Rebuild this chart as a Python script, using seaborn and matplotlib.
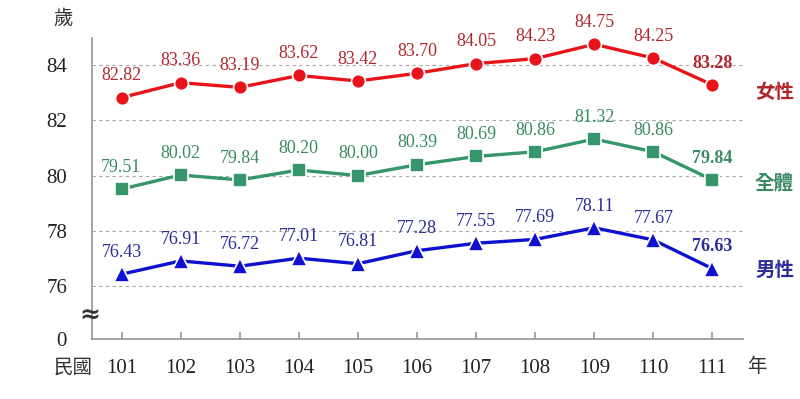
import matplotlib
matplotlib.use("Agg")
import matplotlib.pyplot as plt
import seaborn as sns
import pandas as pd

years = [101, 102, 103, 104, 105, 106, 107, 108, 109, 110, 111]
female = [82.82, 83.36, 83.19, 83.62, 83.42, 83.70, 84.05, 84.23, 84.75, 84.25, 83.28]
total = [79.51, 80.02, 79.84, 80.20, 80.00, 80.39, 80.69, 80.86, 81.32, 80.86, 79.84]
male = [76.43, 76.91, 76.72, 77.01, 76.81, 77.28, 77.55, 77.69, 78.11, 77.67, 76.63]
y_ticks = [76, 78, 80, 82, 84]
series_names = ["女性", "全體", "男性"]

sns.set_theme(style="white")
plt.rcParams['font.family'] = ['Liberation Serif', 'Noto Sans CJK TC', 'DejaVu Sans']

df = pd.DataFrame({"年": years * 3,
                   "歲": female + total + male,
                   "組": [series_names[0]] * 11 + [series_names[1]] * 11 + [series_names[2]] * 11})

# 線色, 標籤色, 標記, 名稱的垂直偏移
styles = {
    "女性": ("#E8141C", "#B3262C", "o", -0.29),
    "全體": ("#36956A", "#3A8A64", "s", -0.13),
    "男性": ("#1010D0", "#2B2B9A", "^", -0.07),
}

fig = plt.figure(figsize=(8, 3.99), dpi=100)
ax = fig.add_axes([0.115, 0.150, 0.814, 0.755])

for name in series_names:
    line_c, text_c, mk, dy = styles[name]
    sub = df[df["組"] == name]
    sns.lineplot(data=sub, x="年", y="歲", ax=ax, color=line_c, linewidth=2.4,
                 marker=mk, markersize=10 if mk != "^" else 11,
                 markeredgecolor="white", markeredgewidth=1.2, legend=False, zorder=3)
    vals = sub["歲"].tolist()
    for i, (x, y) in enumerate(zip(sub["年"], vals)):
        last = i == len(vals) - 1
        ax.text(x, y + 0.48, f"{y:.2f}", ha="center", va="bottom", fontsize=13,
                color=text_c, fontweight="bold" if last else "normal",
                family=['Liberation Serif'])
    ax.text(111.72, vals[-1] + dy, name, ha="left", va="center", fontsize=14,
            color=text_c, fontweight="bold", family=['Noto Sans CJK TC'], clip_on=False)

bottom = 74.08
ax.set_xlim(100.5, 111.52)
ax.set_ylim(bottom, 84.98)
ax.set_yticks([bottom] + y_ticks)
ax.set_yticklabels(["0"] + [str(t) for t in y_ticks], fontsize=15, family=['Liberation Serif'])
ax.set_xticks(years)
ax.set_xticklabels([str(y) for y in years], fontsize=15, family=['Liberation Serif'])
for t in y_ticks:
    ax.axhline(t, color="#A8A8A8", linestyle=(0, (3, 3)), linewidth=0.8, zorder=1)

ax.set_xlabel("")
ax.set_ylabel("")
for s in ["top", "right"]:
    ax.spines[s].set_visible(False)
ax.spines["left"].set_color("#999999")
ax.spines["bottom"].set_color("#999999")
ax.tick_params(axis="x", direction="in", length=5, color="#999999", bottom=True, pad=14,
               labelcolor="#222222")
ax.tick_params(axis="y", length=0, pad=18, labelcolor="#222222")

fig.text(63 / 800, 1 - 18 / 399, "歲", fontsize=14, ha="center", va="center",
         family=['Noto Sans CJK TC'], color="#333333")
fig.text(73 / 800, 1 - 367 / 399, "民國", fontsize=14, ha="center", va="center",
         family=['Noto Sans CJK TC'], color="#333333")
fig.text(757 / 800, 1 - 367 / 399, "年", fontsize=14, ha="center", va="center",
         family=['Noto Sans CJK TC'], color="#333333")
fig.text(90 / 800, 1 - 316 / 399, "≈", fontsize=18, ha="center", va="center",
         family=['DejaVu Sans'], color="#333333", fontweight="bold")

fig.savefig("out.png", dpi=100)
